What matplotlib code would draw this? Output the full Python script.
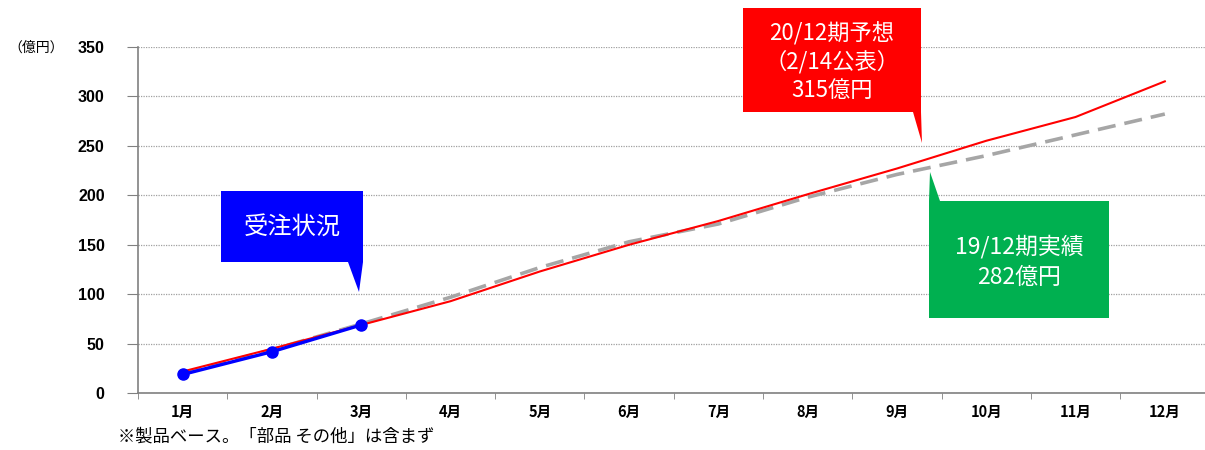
import matplotlib
matplotlib.use("Agg")
import matplotlib.pyplot as plt
from matplotlib.patches import Polygon

plt.rcParams['font.family'] = ['Noto Sans CJK JP', 'DejaVu Sans']

# data (億円, cumulative)
months = ["1月", "2月", "3月", "4月", "5月", "6月", "7月", "8月", "9月", "10月", "11月", "12月"]
orders = [19, 42, 69]                      # 受注状況 (Jan-Mar)
forecast_20 = [22, 45, 69, 93, 123, 150, 174, 201, 227, 255, 279, 315]
actual_19 = [20, 44, 70, 97, 127, 153, 171, 198, 221, 240, 261, 282]
yticks = [0, 50, 100, 150, 200, 250, 300, 350]

W, H = 1205, 450
fig = plt.figure(figsize=(W / 100, H / 100), dpi=100)
ax = fig.add_axes([138 / W, 56.7 / H, (W - 138) / W, 346.6 / H])

x = list(range(1, len(months) + 1))

ax.plot(x, actual_19, color="#a6a6a6", lw=2.6, dashes=(5, 2.5), zorder=2)
ax.plot(x, forecast_20, color="#ff0000", lw=1.5, zorder=3)
ax.plot(x[:len(orders)], orders, color="#0000ff", lw=2.4, marker="o",
        markersize=8, zorder=4)

ax.set_xlim(0.5, 12.45)
ax.set_ylim(0, 350)
ax.set_yticks(yticks)
ax.set_yticklabels([str(v) for v in yticks], fontsize=11.5, fontweight="bold",
                   family=['Liberation Sans', 'DejaVu Sans'])
ax.set_xticks(x)
ax.set_xticklabels(months, fontsize=10.5, fontweight="bold")
ax.set_xticks([i + 0.5 for i in range(0, 12)], minor=True)
ax.tick_params(axis="x", which="major", length=0, pad=8)
ax.tick_params(axis="x", which="minor", length=4, color="#808080")
ax.tick_params(axis="y", length=8, color="#808080", pad=16)

ax.grid(axis="y", color="#a0a0a0", linestyle=(0, (1, 1)), lw=0.9)
ax.set_axisbelow(True)
for s in ["top", "right"]:
    ax.spines[s].set_visible(False)
for s in ["left", "bottom"]:
    ax.spines[s].set_color("#808080")
    ax.spines[s].set_linewidth(1.2)


def px(xp, yp):
    return (xp / W, 1 - yp / H)


def callout(pts, color, lines, cx, cy, step, size):
    poly = Polygon([px(a, b) for a, b in pts], closed=True, facecolor=color,
                   edgecolor="none", transform=fig.transFigure, zorder=10)
    fig.add_artist(poly)
    for i, t in enumerate(lines):
        fig.text(*px(cx, cy + i * step), t, color="white", fontsize=size,
                 ha="center", va="center", zorder=11)


# 受注状況 (blue)
callout([(221, 191), (363, 191), (363, 262), (359, 292), (348, 262), (221, 262)],
        "#0000ff", ["受注状況"], 292, 227, 0, 17.5)

# 20/12期予想 (red)
callout([(743, 8), (921, 8), (921, 112), (922, 143), (913, 112), (743, 112)],
        "#ff0000", ["20/12期予想", "（2/14公表）", "315億円"], 832, 34, 28, 16)

# 19/12期実績 (green)
callout([(929, 201), (930, 172), (940, 201), (1109, 201), (1109, 318), (929, 318)],
        "#00b050", ["19/12期実績", "282億円"], 1019, 247, 30, 16.5)

fig.text(*px(8, 48), "（億円）", fontsize=10, ha="left", va="center")
fig.text(*px(118, 437), "※製品ベース。「部品 その他」は含まず", fontsize=12.5,
         ha="left", va="center")

fig.savefig("out.png", dpi=100)
